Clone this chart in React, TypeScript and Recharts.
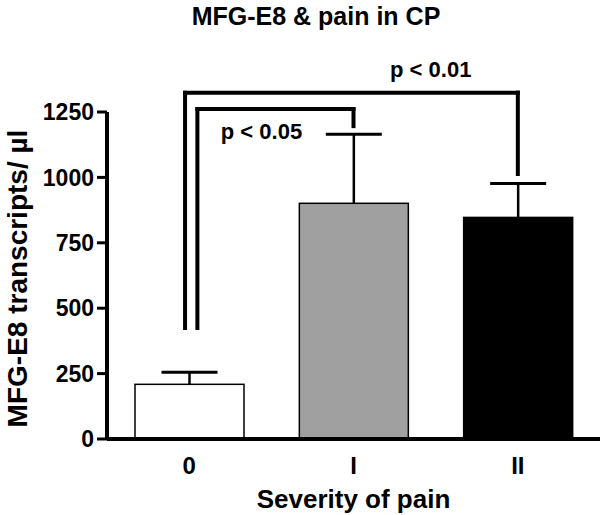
import {
  ComposedChart,
  Bar,
  XAxis,
  YAxis,
  ReferenceLine,
  ReferenceDot,
} from 'recharts';

const categories = ['0', 'I', 'II'];
const means = [209, 901, 847];
const sems = [46, 264, 130];
const yTicks = [0, 250, 500, 750, 1000, 1250];

// significance brackets, in data units (x = category index)
const bracketLeft = [-0.025, 0.05];
const bracketRight = [2, 1];
const bracketBase = [424, 424];
const bracketTop = [1324, 1261];
const bracketEnd = [1013, 1196];
const pLabels = ['p < 0.01', 'p < 0.05'];
const pLabelX = [1.47, 0.44];
const pLabelY = [1412, 1175];

const fills = ['#ffffff', '#a0a0a0', '#000000'];
const font = '"Liberation Sans", Arial, Helvetica, sans-serif';

const data = categories.map((name, i) => ({ name, pos: i, mean: means[i], sem: sems[i], fill: fills[i] }));

function BarWithError(props: any) {
  const { x, y, width, height, payload } = props;
  const perUnit = height / payload.mean;
  const errTop = y - payload.sem * perUnit;
  const cx = x + width / 2;
  return (
    <g>
      <rect x={x} y={y} width={width} height={height} fill={payload.fill} stroke="#000" strokeWidth={1.5} />
      <line x1={cx} y1={y} x2={cx} y2={errTop} stroke="#000" strokeWidth={2.5} />
      <line x1={cx - 28} y1={errTop} x2={cx + 28} y2={errTop} stroke="#000" strokeWidth={3} />
    </g>
  );
}

export default function App() {
  const lineProps = { stroke: '#000', strokeWidth: 4, strokeLinecap: 'square' as const, ifOverflow: 'visible' as const, xAxisId: 'num' };
  return (
    <div style={{ position: 'absolute', left: 0, top: 0, background: '#fff' }}>
      <ComposedChart width={600} height={515} data={data} margin={{ top: 112, right: 0, bottom: 0, left: 0 }}>
        <text x={316} y={25} textAnchor="middle" fontFamily={font} fontWeight="bold" fontSize={25} fill="#000">
          MFG-E8 &amp; pain in CP
        </text>
        <XAxis
          dataKey="name"
          height={76}
          tickLine={false}
          tickSize={0}
          tickMargin={18}
          axisLine={{ stroke: '#000', strokeWidth: 4 }}
          tick={{ fill: '#000', fontSize: 24, fontWeight: 'bold', fontFamily: font }}
          label={{ value: 'Severity of pain', position: 'insideBottom', offset: 7, fill: '#000', fontSize: 26, fontWeight: 'bold', fontFamily: font }}
        />
        <XAxis xAxisId="num" dataKey="pos" type="number" domain={[-0.5, 2.5]} padding={{ left: 0, right: 0 }} allowDataOverflow hide />
        <YAxis
          width={107}
          domain={[0, 1250]}
          ticks={yTicks}
          interval={0}
          tickSize={10}
          tickMargin={3}
          axisLine={{ stroke: '#000', strokeWidth: 4 }}
          tickLine={{ stroke: '#000', strokeWidth: 3 }}
          tick={{ fill: '#000', fontSize: 23, fontWeight: 'bold', fontFamily: font }}
          label={{ value: 'MFG-E8 transcripts/ µl', angle: -90, position: 'center', dx: -36, dy: 3, fill: '#000', fontSize: 28, fontWeight: 'bold', fontFamily: font }}
        />
        <Bar dataKey="mean" barSize={109} shape={BarWithError} isAnimationActive={false} />
        {bracketLeft.map((lx, i) => (
          <g key={'b' + i}>
            <ReferenceLine {...lineProps} segment={[{ x: lx, y: bracketBase[i] }, { x: lx, y: bracketTop[i] }]} />
            <ReferenceLine {...lineProps} segment={[{ x: lx, y: bracketTop[i] }, { x: bracketRight[i], y: bracketTop[i] }]} />
            <ReferenceLine {...lineProps} segment={[{ x: bracketRight[i], y: bracketTop[i] }, { x: bracketRight[i], y: bracketEnd[i] }]} />
            <ReferenceDot
              xAxisId="num"
              x={pLabelX[i]}
              y={pLabelY[i]}
              r={0}
              fill="none"
              stroke="none"
              ifOverflow="visible"
              label={{ value: pLabels[i], position: 'center', fill: '#000', fontSize: 22, fontWeight: 'bold', fontFamily: font }}
            />
          </g>
        ))}
      </ComposedChart>
    </div>
  );
}
